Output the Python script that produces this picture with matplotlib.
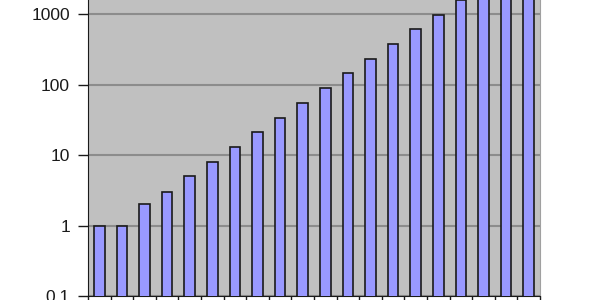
import matplotlib
matplotlib.use("Agg")
import matplotlib.pyplot as plt
from matplotlib.ticker import FixedLocator, NullLocator

values = [1, 1, 2, 3, 5, 8, 13, 21, 34, 55, 89, 144, 233, 377, 610, 987, 1597, 2584, 4181, 6765]
ytick_vals = [0.1, 1, 10, 100, 1000]
ytick_labels = ["0.1", "1", "10", "100", "1000"]

plt.rcParams['font.family'] = ['Liberation Sans', 'DejaVu Sans']

fig = plt.figure(figsize=(6, 3), dpi=100)
ax = fig.add_axes([88/600, 4/300, 452/600, (296 + 56.3)/300])
ax.set_facecolor("#C0C0C0")

x = list(range(len(values)))
ax.bar([i + 0.5 for i in x], values, width=0.47, color="#9999FF",
       edgecolor="#1A1A1A", linewidth=1.2, zorder=3)

ax.set_yscale("log")
ax.set_ylim(0.1, 10000)
ax.set_xlim(0, len(values))
ax.yaxis.set_major_locator(FixedLocator(ytick_vals))
ax.set_yticklabels(ytick_labels)
ax.yaxis.set_minor_locator(NullLocator())
ax.set_xticks(range(len(values) + 1))
ax.set_xticklabels([])
ax.tick_params(axis="y", direction="out", length=7, width=1, labelsize=12.5, pad=6, colors="#1A1A1A")
ax.tick_params(axis="x", direction="out", length=6, width=1, colors="#1A1A1A")
ax.grid(axis="y", which="major", color="#8C8C8C", linewidth=1.5, zorder=1)
ax.set_axisbelow(True)
for s in ["top", "right"]:
    ax.spines[s].set_color("#A0A0A0")
ax.spines["left"].set_color("#1A1A1A")
ax.spines["bottom"].set_color("#1A1A1A")

fig.savefig("out.png", dpi=100)
